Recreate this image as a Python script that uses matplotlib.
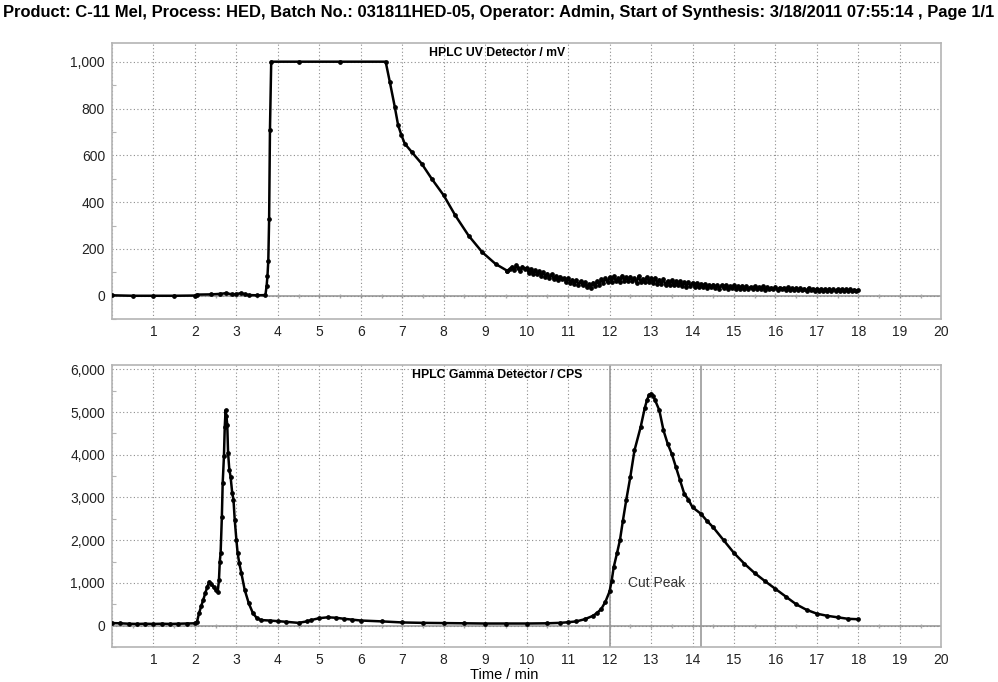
#!/usr/bin/env python3
"""HPLC run report: UV and gamma detector traces for a C-11 Mel synthesis."""

import matplotlib
matplotlib.use("Agg")
import matplotlib.pyplot as plt
import numpy as np
from matplotlib.ticker import FuncFormatter, MultipleLocator

plt.rcParams["font.family"] = ["Liberation Sans", "DejaVu Sans"]

TITLE = ("Product: C-11 Mel, Process: HED, Batch No.: 031811HED-05, Operator: Admin, "
         "Start of Synthesis: 3/18/2011 07:55:14 , Page 1/1")

# UV detector (mV): hand-read trace up to the tailing region
UV_TIME_A = [0.0, 0.5, 1.0, 1.5, 2.0, 2.05, 2.4, 2.6, 2.75, 2.9, 3.0, 3.1, 3.2, 3.3,
             3.5, 3.7, 3.73, 3.75, 3.77, 3.79, 3.81, 3.84, 4.5, 5.5, 6.6, 6.7, 6.82,
             6.9, 6.98, 7.06, 7.23, 7.47, 7.71, 8.0, 8.28, 8.6, 8.93, 9.25, 9.53]
UV_MV_A = [2, 0, 0, 0, 1, 5, 6, 8, 11, 6, 7, 11, 7, 3,
           2, 3, 43, 86, 150, 330, 710, 1000, 1000, 1000, 1000, 914, 807,
           729, 686, 650, 614, 564, 500, 429, 343, 257, 186, 136, 107]

# noisy tail, sampled every 0.05 min from 9.60 to 18.00
UV_MV_B = [115, 124, 112, 130, 118, 104, 125, 116,
           120, 99, 115, 94, 108, 95, 104, 86, 101, 82,
           95, 76, 92, 73, 84, 66, 82, 70, 75, 58,
           76, 56, 68, 52, 67, 47, 62, 44, 57, 38,
           49, 35, 56, 42, 63, 48, 70, 55, 74, 58,
           80, 60, 83, 63, 74, 57, 86, 65, 79, 61,
           82, 62, 75, 56, 84, 60, 73, 57, 80, 59,
           74, 54, 77, 51, 69, 49, 72, 46, 63, 48,
           67, 44, 61, 45, 61, 41, 58, 39, 58, 42,
           56, 39, 55, 36, 51, 38, 51, 34, 47, 36,
           48, 33, 46, 31, 45, 33, 46, 30, 41, 32,
           45, 30, 41, 30, 43, 28, 40, 30, 38, 27,
           41, 29, 37, 28, 40, 26, 37, 28, 35, 27,
           38, 25, 35, 27, 34, 24, 36, 26, 32, 25,
           34, 23, 33, 25, 31, 22, 34, 24, 30, 21,
           31, 21, 30, 22, 29, 21, 30, 19, 28, 21,
           29, 20, 28, 20, 27, 21, 28, 19, 26, 22,
           24]
UV_TIME_B = np.round(9.60 + 0.05 * np.arange(len(UV_MV_B)), 2)

# gamma detector (CPS)
GAMMA_TIME = [0.0, 0.2, 0.4, 0.6, 0.8, 1.0, 1.2, 1.4, 1.6, 1.8, 2.0, 2.05, 2.1, 2.15,
              2.2, 2.25, 2.3, 2.35, 2.4, 2.45, 2.5, 2.55, 2.58, 2.6, 2.62, 2.65, 2.67,
              2.7, 2.72, 2.74, 2.76, 2.78, 2.8, 2.83, 2.86, 2.9, 2.93, 2.96, 3.0, 3.03,
              3.07, 3.12, 3.2, 3.3, 3.4, 3.5, 3.6, 3.8, 4.0, 4.2, 4.5, 4.7, 4.8, 5.0,
              5.2, 5.4, 5.6, 5.8, 6.0, 6.5, 7.0, 7.5, 8.0, 8.5, 9.0, 9.5, 10.0, 10.5,
              10.8, 11.0, 11.2, 11.4, 11.6, 11.7, 11.8, 11.9, 12.0, 12.05, 12.1, 12.18,
              12.25, 12.32, 12.4, 12.5, 12.6, 12.75, 12.85, 12.9, 12.95, 13.0, 13.05,
              13.1, 13.2, 13.3, 13.4, 13.5, 13.6, 13.7, 13.8, 13.9, 14.0, 14.2, 14.35,
              14.5, 14.75, 15.0, 15.25, 15.5, 15.75, 16.0, 16.25, 16.5, 16.75, 17.0,
              17.25, 17.5, 17.75, 18.0]
GAMMA_CPS = [60, 55, 45, 40, 45, 40, 45, 40, 45, 50, 55, 90, 290, 450,
             600, 760, 910, 1030, 980, 900, 840, 790, 1070, 1500, 1700, 2550, 3340,
             3960, 4660, 5040, 4900, 4700, 4040, 3650, 3490, 3100, 2950, 2480, 2010, 1700,
             1460, 1230, 840, 520, 290, 170, 130, 120, 105, 90, 65, 100, 130, 175,
             195, 185, 160, 140, 120, 100, 75, 65, 60, 55, 50, 50, 50, 55,
             65, 80, 100, 150, 230, 300, 390, 560, 800, 1050, 1370, 1700,
             2000, 2450, 2930, 3480, 4100, 4650, 5100, 5270, 5400, 5430, 5380,
             5270, 5040, 4570, 4260, 4020, 3710, 3400, 3090, 2950, 2770, 2620, 2450,
             2300, 2000, 1700, 1450, 1230, 1040, 860, 680, 500, 370, 280,
             230, 195, 160, 150]

CUT_START = 12.0
CUT_END = 14.2

FRAME = "#b4b4b4"
GRID = "#8c8c8c"


def style_axes(ax, ylim, ystep, yminor, title):
    ax.set_xlim(0, 20)
    ax.set_ylim(*ylim)
    ax.xaxis.set_major_locator(MultipleLocator(1))
    ax.yaxis.set_major_locator(MultipleLocator(ystep))
    ax.yaxis.set_minor_locator(MultipleLocator(yminor))
    ax.xaxis.set_major_formatter(FuncFormatter(lambda v, p: "" if v <= 0 else f"{v:.0f}"))
    ax.yaxis.set_major_formatter(FuncFormatter(lambda v, p: "" if v < 0 else f"{v:,.0f}"))
    ax.tick_params(axis="both", which="major", length=0, labelsize=10, colors="#222222", pad=5)
    ax.tick_params(axis="x", which="major", pad=4)
    ax.tick_params(axis="y", which="minor", length=3, direction="in", color=FRAME, width=0.8)
    ax.grid(True, which="major", color=GRID, linestyle=(0, (1, 2.2)), linewidth=0.8)
    for sp in ax.spines.values():
        sp.set_color(FRAME)
        sp.set_linewidth(1.2)
    ax.axhline(0, color="#a8a8a8", linewidth=1.4, zorder=1)
    half = np.arange(0.5, 20, 0.5)
    ax.plot(half, np.zeros_like(half), linestyle="none", marker="|", markersize=3,
            color="#a8a8a8", zorder=1)
    ax.text(0.464, 0.985, title, transform=ax.transAxes, ha="center", va="top",
            fontsize=8.8, fontweight="bold")


def trace(ax, t, v):
    ax.plot(t, v, color="black", linewidth=1.8, marker="o", markersize=2.4, zorder=3)


def main() -> None:
    fig = plt.figure(figsize=(9.98, 6.82), dpi=100)
    fig.text(0.5, 0.981, TITLE, ha="center", va="center", fontsize=11.9, fontweight="bold")

    ax_uv = fig.add_axes([0.1122, 0.532, 0.8310, 0.405])
    ax_g = fig.add_axes([0.1122, 0.0513, 0.8310, 0.4135])

    style_axes(ax_uv, (-100, 1080), 200, 100, "HPLC UV Detector / mV")
    trace(ax_uv, UV_TIME_A, UV_MV_A)
    trace(ax_uv, np.concatenate([[UV_TIME_A[-1]], UV_TIME_B]),
          np.concatenate([[UV_MV_A[-1]], UV_MV_B]))

    style_axes(ax_g, (-500, 6100), 1000, 500, "HPLC Gamma Detector / CPS")
    trace(ax_g, GAMMA_TIME, GAMMA_CPS)
    for x in (CUT_START, CUT_END):
        ax_g.axvline(x, color="#9a9a9a", linewidth=1.2, zorder=2)
    ax_g.text(CUT_START + 0.45, 1000, "Cut Peak", fontsize=10, color="#333333",
              ha="left", va="center")
    ax_g.set_xlabel("Time / min", fontsize=10.5)
    ax_g.xaxis.set_label_coords(0.473, -0.073)

    fig.savefig("out.png", dpi=100)
    plt.close(fig)


if __name__ == "__main__":
    main()
